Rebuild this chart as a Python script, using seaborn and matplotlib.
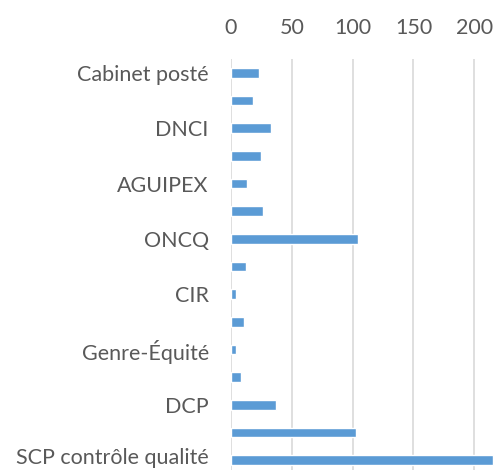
import matplotlib
matplotlib.use("Agg")
import matplotlib.pyplot as plt
import seaborn as sns
import pandas as pd
import numpy as np

labels = ["Cabinet posté", "", "DNCI", "", "AGUIPEX", "", "ONCQ", "",
          "CIR", "", "Genre-Équité", "", "DCP", "", "SCP contrôle qualité"]
values = [23, 18, 33, 25, 13, 26, 104, 12, 4, 11, 4, 8, 37, 103, 215]
x_ticks = [0, 50, 100, 150, 200]

sns.set_theme(style="white")
plt.rcParams['font.family'] = ['Lato', 'DejaVu Sans']

df = pd.DataFrame({"pos": [str(i) for i in range(len(values))], "value": values})

fig = plt.figure(figsize=(4.95, 4.70), dpi=100)
ax = fig.add_axes([231 / 495, -4 / 470, 264 / 495, 415 / 470])
sns.barplot(data=df, x="value", y="pos", orient="h", color="#5B9BD5",
            saturation=1, width=0.34, ax=ax, zorder=3)

ax.set_xlim(0, 217)
ax.set_ylim(len(values) - 0.5, -0.5)
ax.set_xticks(x_ticks)
ax.set_yticks(range(len(values)))
# the bottom label is drawn separately so it stays inside the figure
ax.set_yticklabels(labels[:-1] + [""])
ax.annotate(labels[-1], xy=(0, len(values) - 1), xycoords=("axes fraction", "data"),
            xytext=(-16, -2.6), textcoords="offset points", ha="right", va="baseline",
            fontsize=15.5, color="#595959", annotation_clip=False)
ax.xaxis.tick_top()
ax.set_xlabel("")
ax.set_ylabel("")
ax.grid(axis="x", color="#D9D9D9", linewidth=1.2, zorder=0)
ax.grid(axis="y", visible=False)
for s in ax.spines.values():
    s.set_visible(False)
ax.tick_params(axis="x", length=0, pad=15, labelsize=15.5, labelcolor="#595959")
ax.tick_params(axis="y", length=0, pad=16, labelsize=15.5, labelcolor="#595959")

fig.savefig("out.png", dpi=100)
